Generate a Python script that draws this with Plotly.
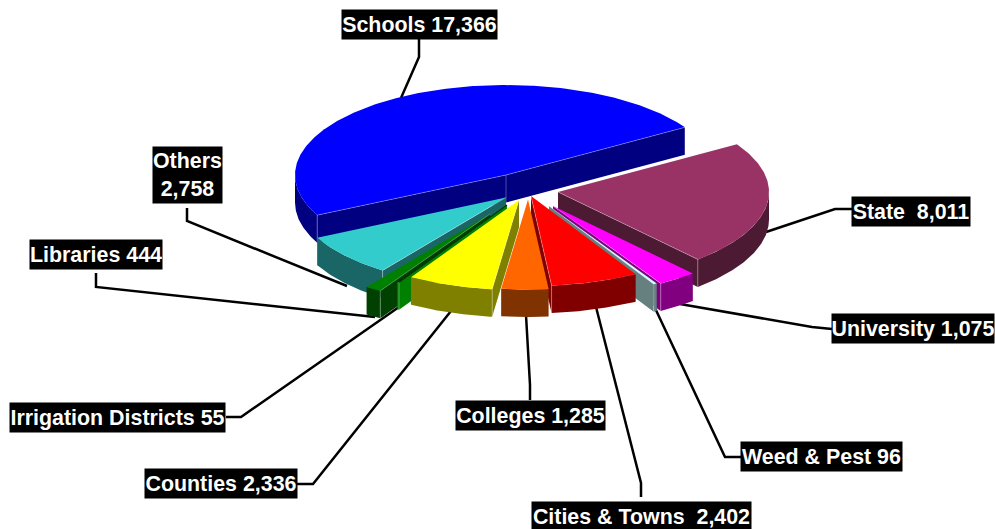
import math
import plotly.graph_objects as go

# ---- data -------------------------------------------------------------
names = ["Schools", "State\u00a0", "University", "Weed & Pest", "Cities & Towns\u00a0",
         "Colleges", "Counties", "Irrigation Districts", "Libraries", "Others"]
values = [17366, 8011, 1075, 96, 2402, 1285, 2336, 55, 444, 2758]

# ---- styles -----------------------------------------------------------
top_colors = ["#0000ff", "#993366", "#ff00ff", "#ccffff", "#ff0000",
              "#ff6600", "#ffff00", "#003300", "#008000", "#33cccc"]
wall_colors = ["#000080", "#4d1a33", "#800080", "#668080", "#800000",
               "#803300", "#808000", "#008000", "#004000", "#1a6666"]
# exploded position of each slice's tip on the canvas
tips = [(506, 175), (558, 192), (553, 206), (549, 206), (531, 196),
        (528, 199.5), (519, 200), (507, 205), (490, 214), (506, 197.5)]
paint_order = [0, 1, 9, 8, 7, 2, 3, 4, 6, 5]
RX, RY, DEPTH = 211, 90, 27.5
START_ANGLE = 58 - values[0] / sum(values) * 360

label_boxes = [  # x0, x1, y0, y1
    (342, 497, 10, 39), (852, 970, 197, 226), (832, 994, 314, 343), (741, 902, 442, 471),
    (532, 751, 502, 531), (456, 605, 401, 430), (145, 297, 469, 498), (10, 225, 403, 432),
    (30, 162, 240, 269), (153, 222, 147, 203)]
leaders = [
    [(419, 39), (419, 57), (401, 98)],
    [(852, 209), (835, 209), (766, 232)],
    [(832, 329), (812, 327), (680, 304)],
    [(741, 457), (725, 457), (655, 308)],
    [(641, 497), (641, 483), (596, 307)],
    [(530, 400), (530, 385), (526, 315)],
    [(297, 484), (313, 484), (451, 311)],
    [(226, 417), (241, 417), (399, 307)],
    [(96, 273), (96, 287), (375, 317)],
    [(187, 208), (187, 221), (347, 286)],
]

fig = go.Figure()


def poly(pts, color):
    fig.add_trace(go.Scatter(x=[p[0] for p in pts], y=[p[1] for p in pts], mode="lines",
                             fill="toself", fillcolor=color, line=dict(width=0),
                             hoverinfo="skip", showlegend=False))


def edge(pts, color="rgba(255,255,255,0.3)", width=1):
    fig.add_trace(go.Scatter(x=[p[0] for p in pts], y=[p[1] for p in pts], mode="lines",
                             line=dict(color=color, width=width), hoverinfo="skip", showlegend=False))


for path in leaders:
    edge(path, "#000000", 2.5)

# slice angles, clockwise from the back of the pie
angles = []
a = START_ANGLE
for v in values:
    b = a + v / sum(values) * 360
    angles.append((a, b))
    a = b


def rim(tip, t, dz=0):
    r = math.radians(t)
    return (tip[0] + RX * math.sin(r), tip[1] - RY * math.cos(r) + dz)


def arc(tip, a, b, dz=0):
    n = max(2, int(abs(b - a)) * 2 + 2)
    return [rim(tip, a + (b - a) * i / (n - 1), dz) for i in range(n)]


for i in paint_order:
    a, b = angles[i]
    tip = tips[i]
    low = (tip[0], tip[1] + DEPTH)
    wall = wall_colors[i]
    # radial faces that turn towards the viewer
    for ang, normal in ((a, a - 90), (b, b + 90)):
        if math.cos(math.radians(normal)) < 0:
            poly([tip, rim(tip, ang), rim(tip, ang, DEPTH), low, tip], wall)
    # outer wall
    for lo, hi in ((90, 270), (-270, -90)):
        s, e = max(a, lo), min(b, hi)
        if s < e:
            up = arc(tip, s, e)
            poly(up + arc(tip, e, s, DEPTH) + [up[0]], wall)
    # top
    top = [tip] + arc(tip, a, b) + [tip]
    poly(top, top_colors[i])
    # thin light seams on the visible solid edges
    for ang, normal in ((a, a - 90), (b, b + 90)):
        if math.cos(math.radians(normal)) < 0:
            edge([tip, rim(tip, ang), rim(tip, ang, DEPTH)])
    if i == 0:
        edge([tip, low])
    if i == 7:
        edge([tip, rim(tip, a)], "#003300", 1.2)

annotations = []
for name, v, box in zip(names, values, label_boxes):
    sep = "<br>" if name == "Others" else " "
    annotations.append(dict(
        x=(box[0] + box[1]) / 2, y=(box[2] + box[3]) / 2, xref="x", yref="y",
        text=f"<b>{name}{sep}{v:,}</b>", showarrow=False, align="center", valign="middle",
        width=box[1] - box[0], height=box[3] - box[2], bgcolor="#000000", borderpad=0,
        font=dict(family="Liberation Sans", size=21.4, color="#ffffff")))

fig.update_layout(
    width=995, height=529, margin=dict(l=0, r=0, t=0, b=0),
    paper_bgcolor="#ffffff", plot_bgcolor="#ffffff", showlegend=False,
    xaxis=dict(range=[0, 995], visible=False, fixedrange=True),
    yaxis=dict(range=[529, 0], visible=False, fixedrange=True),
    annotations=annotations)

fig.write_html("out.html", config={"displayModeBar": False},
               post_script="document.body.style.margin='0';document.body.style.overflow='hidden';")
